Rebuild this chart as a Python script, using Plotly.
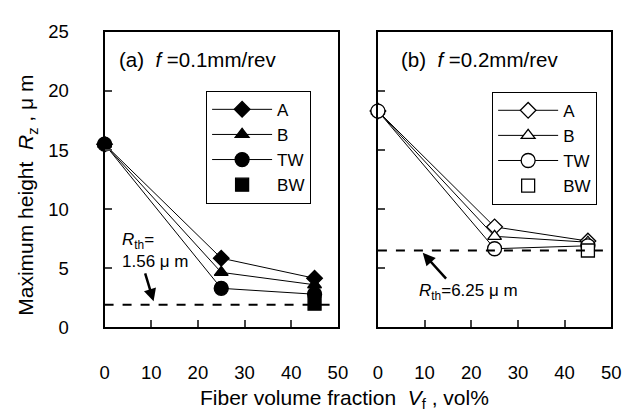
import plotly.graph_objects as go
from plotly.subplots import make_subplots

# Data
vf = [0, 25, 45]
vf_bw = [45]
a_A = [15.5, 5.85, 4.15]
a_B = [15.5, 4.65, 3.6]
a_TW = [15.5, 3.3, 2.8]
a_BW = [2.0]
b_A = [18.3, 8.5, 7.3]
b_B = [18.3, 7.7, 7.2]
b_TW = [18.3, 6.65, 6.9]
b_BW = [6.5]
rth_a = 1.9
rth_b = 6.5
x_ticks = [0, 10, 20, 30, 40, 50]
y_ticks = [0, 5, 10, 15, 20, 25]

FONT = "Liberation Sans, Arial, sans-serif"

fig = make_subplots(rows=1, cols=2)

def add_series(col, ys, bw, filled, legend):
    fill = "black" if filled else "white"
    specs = [("A", ys[0], "diamond", 12), ("B", ys[1], "triangle-up", 12), ("TW", ys[2], "circle", 14)]
    for name, y, sym, size in specs:
        fig.add_trace(go.Scatter(
            x=vf, y=y, name=name, mode="lines+markers",
            line=dict(color="black", width=1),
            marker=dict(symbol=sym, size=size, color=fill, line=dict(color="black", width=1.3)),
            cliponaxis=False, legend=legend), row=1, col=col)
    fig.add_trace(go.Scatter(
        x=vf_bw, y=bw, name="BW", mode="markers",
        marker=dict(symbol="square", size=13, color=fill, line=dict(color="black", width=1.3)),
        cliponaxis=False, legend=legend), row=1, col=col)

add_series(1, [a_A, a_B, a_TW], a_BW, True, "legend")
add_series(2, [b_A, b_B, b_TW], b_BW, False, "legend2")

# threshold lines
for xr, yr, val in [("x", "y", rth_a), ("x2", "y2", rth_b)]:
    fig.add_shape(type="line", xref=xr, yref=yr, x0=0, x1=50, y0=val, y1=val,
                  line=dict(color="black", width=2, dash="dash"))

axis_common = dict(range=[0, 50], tickvals=x_ticks, ticks="inside", ticklen=7, tickwidth=1.5,
                   showline=True, linewidth=2, linecolor="black", mirror=True,
                   showgrid=False, zeroline=False, tickfont=dict(size=18.5, color="black", family=FONT),
                   ticklabelstandoff=27)
fig.update_xaxes(**axis_common)
fig.update_xaxes(domain=[102/631, 341/631], row=1, col=1)
fig.update_xaxes(domain=[382/631, 621/631], row=1, col=2)

yax_common = dict(range=[0, 25], tickvals=y_ticks, ticks="inside", ticklen=7, tickwidth=1.5,
                  showline=True, linewidth=2, linecolor="black", mirror=True,
                  showgrid=False, zeroline=False, tickfont=dict(size=18.5, color="black", family=FONT),
                  domain=[(419-333)/419, 1-22/419])
fig.update_yaxes(**yax_common)
fig.update_yaxes(ticklabelstandoff=30, row=1, col=1)
fig.update_yaxes(showticklabels=False, row=1, col=2)

ann = []
ann.append(dict(text="(a)  <i>f</i> =0.1mm/rev", x=2.6, y=22.7, xref="x", yref="y",
                xanchor="left", yanchor="middle", showarrow=False, font=dict(size=20.5)))
ann.append(dict(text="(b)  <i>f</i> =0.2mm/rev", x=4.6, y=22.7, xref="x2", yref="y2",
                xanchor="left", yanchor="middle", showarrow=False, font=dict(size=20.5)))
ann.append(dict(text="<i>R</i><sub>th</sub>=<br>1.56 μ m", x=3.2, y=6.5, xref="x", yref="y",
                xanchor="left", yanchor="middle", align="left", showarrow=False, font=dict(size=17)))
ann.append(dict(text="", x=10.5, y=2.2, ax=8.6, ay=4.7, xref="x", yref="y", axref="x", ayref="y",
                showarrow=True, arrowhead=2, arrowsize=1, arrowwidth=2.5, arrowcolor="black"))
ann.append(dict(text="<i>R</i><sub>th</sub>=6.25 μ m", x=8.4, y=3.0, xref="x2", yref="y2",
                xanchor="left", yanchor="middle", showarrow=False, font=dict(size=17)))
ann.append(dict(text="", x=9.6, y=6.3, ax=14.9, ay=4.0, xref="x2", yref="y2", axref="x2", ayref="y2",
                showarrow=True, arrowhead=2, arrowsize=1, arrowwidth=2.5, arrowcolor="black"))
ann.append(dict(text="Maximum height  <i>R</i><sub>z</sub> , μ m", x=23/631, y=1-194/419,
                xref="paper", yref="paper", textangle=-90, showarrow=False,
                xanchor="center", yanchor="middle", font=dict(size=21)))
ann.append(dict(text="Fiber volume fraction  <i>V</i><sub>f</sub> , vol%", x=348/631, y=1-408/419,
                xref="paper", yref="paper", showarrow=False,
                xanchor="center", yanchor="middle", font=dict(size=21)))
fig.update_layout(annotations=ann)

legend_common = dict(bordercolor="black", borderwidth=1, bgcolor="white",
                     font=dict(size=17, color="black", family=FONT), itemwidth=60,
                     xanchor="left", yanchor="top", tracegroupgap=0)
fig.update_layout(
    width=631, height=419, margin=dict(l=0, r=0, t=0, b=0),
    paper_bgcolor="white", plot_bgcolor="white",
    font=dict(family=FONT, color="black"),
    legend=dict(x=206/631, y=1-84/419, **legend_common),
    legend2=dict(x=499/631, y=1-85/419, **legend_common),
)

fig.write_html("out.html")
